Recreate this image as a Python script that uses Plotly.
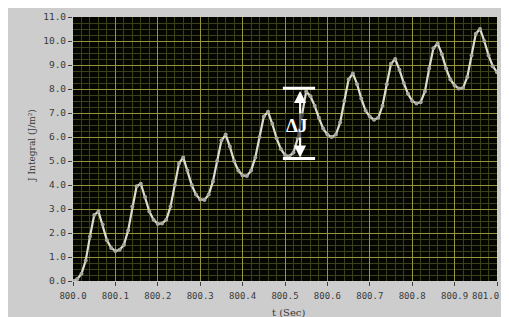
import plotly.graph_objects as go

t_sec = [round(800.00 + i * 0.01, 2) for i in range(101)]
j_integral = [
    0.0, 0.08, 0.3, 0.85, 1.85, 2.75, 2.9, 2.35, 1.7, 1.38,
    1.25, 1.3, 1.5, 2.1, 3.1, 3.95, 4.05, 3.5, 2.9, 2.55,
    2.38, 2.4, 2.55, 3.1, 4.0, 4.9, 5.15, 4.6, 4.0, 3.6,
    3.4, 3.38, 3.6, 4.15, 5.0, 5.85, 6.1, 5.6, 5.0, 4.6,
    4.4, 4.38, 4.6, 5.15, 6.0, 6.85, 7.05, 6.55, 5.95, 5.5,
    5.25, 5.2, 5.35, 5.95, 6.9, 7.9, 7.7, 7.3, 6.8, 6.35,
    6.1, 6.0, 6.1, 6.6, 7.5, 8.4, 8.65, 8.2, 7.6, 7.1,
    6.85, 6.72, 6.8, 7.3, 8.2, 9.05, 9.25, 8.8, 8.25, 7.8,
    7.5, 7.4, 7.45, 7.9, 8.85, 9.7, 9.9, 9.45, 8.85, 8.4,
    8.15, 8.02, 8.05, 8.5, 9.4, 10.3, 10.5, 10.0, 9.4, 8.95,
    8.7,
]
x_ticks = [round(800.0 + i * 0.1, 1) for i in range(11)]
x_ticklabels = ["800.0", "800.1", "800.2", "800.3", "800.4", "800.5",
                "800.6", "800.7", "800.8", "800.9", "801.0"]
y_ticks = list(range(12))
y_ticklabels = ["%.1f" % v for v in y_ticks]

delta_top = 8.03
delta_bottom = 5.1
delta_x0, delta_x1, delta_xm = 800.495, 800.571, 800.5355

fig = go.Figure()
fig.add_trace(go.Scatter(
    x=t_sec, y=j_integral, mode="lines+markers",
    line=dict(color="#dcdcd0", width=2.2),
    marker=dict(size=4, color="#a8a8a0", line=dict(width=0)),
    showlegend=False,
))

# Delta J markers
for yv in (delta_top, delta_bottom):
    fig.add_shape(type="line", x0=delta_x0, x1=delta_x1, y0=yv, y1=yv,
                  xref="x", yref="y", line=dict(color="white", width=3))
fig.add_annotation(x=delta_xm, y=delta_bottom + 0.05, ax=delta_xm, ay=delta_top - 0.05,
                   xref="x", yref="y", axref="x", ayref="y", text="",
                   showarrow=True, arrowhead=2, arrowside="end+start",
                   arrowsize=1.2, arrowwidth=2, arrowcolor="white")
fig.add_annotation(x=800.526, y=6.5, xref="x", yref="y", text="<b>ΔJ</b>",
                   showarrow=False, bgcolor="rgba(0,0,0,0.6)",
                   font=dict(family="Liberation Serif", size=19, color="white"))

# Axis titles
fig.add_annotation(x=-0.097, y=0.515, xref="paper", yref="paper",
                   xanchor="center", yanchor="middle",
                   text="J Integral (J/m²)", textangle=-90, showarrow=False,
                   font=dict(family="DejaVu Serif", size=9, color="#3a3a3a"))
fig.add_annotation(x=0.508, y=-0.12, xref="paper", yref="paper",
                   xanchor="center", yanchor="middle",
                   text="t (Sec)", showarrow=False,
                   font=dict(family="DejaVu Serif", size=10, color="#3a3a3a"))

tick_font = dict(family="DejaVu Sans Mono", size=9, color="#3a3a3a")
# last x tick label drawn at the right edge so it stays inside the page
fig.add_annotation(x=x_ticks[-1], y=-0.055, xref="x", yref="paper",
                   xanchor="right", yanchor="middle", xshift=4,
                   text=x_ticklabels[-1], showarrow=False, font=tick_font)

fig.update_layout(
    width=501, height=309,
    margin=dict(l=65, r=12, t=9, b=36, autoexpand=False),
    paper_bgcolor="#cdcdcd", plot_bgcolor="#060600",
    showlegend=False,
)
fig.update_xaxes(
    range=[800.0, 801.0], tickvals=x_ticks,
    ticktext=x_ticklabels[:-1] + [""],
    showgrid=True, gridcolor="#95953e", gridwidth=1,
    minor=dict(dtick=0.02, showgrid=True, gridcolor="#3c4019", gridwidth=1),
    ticks="outside", ticklen=4, tickcolor="#404040", zeroline=False,
    tickfont=tick_font,
    ticklabeloverflow="allow", ticklabelstandoff=2, automargin=False,
    showline=False,
)
fig.update_yaxes(
    range=[0, 11], tickvals=y_ticks, ticktext=y_ticklabels,
    showgrid=True, gridcolor="#95953e", gridwidth=1,
    minor=dict(dtick=0.25, showgrid=True, gridcolor="#3c4019", gridwidth=1),
    ticks="outside", ticklen=4, tickcolor="#404040", zeroline=False,
    tickfont=dict(family="DejaVu Sans Mono", size=9.5, color="#3a3a3a"),
    automargin=False, showline=False,
)

fig.write_html("out.html")
